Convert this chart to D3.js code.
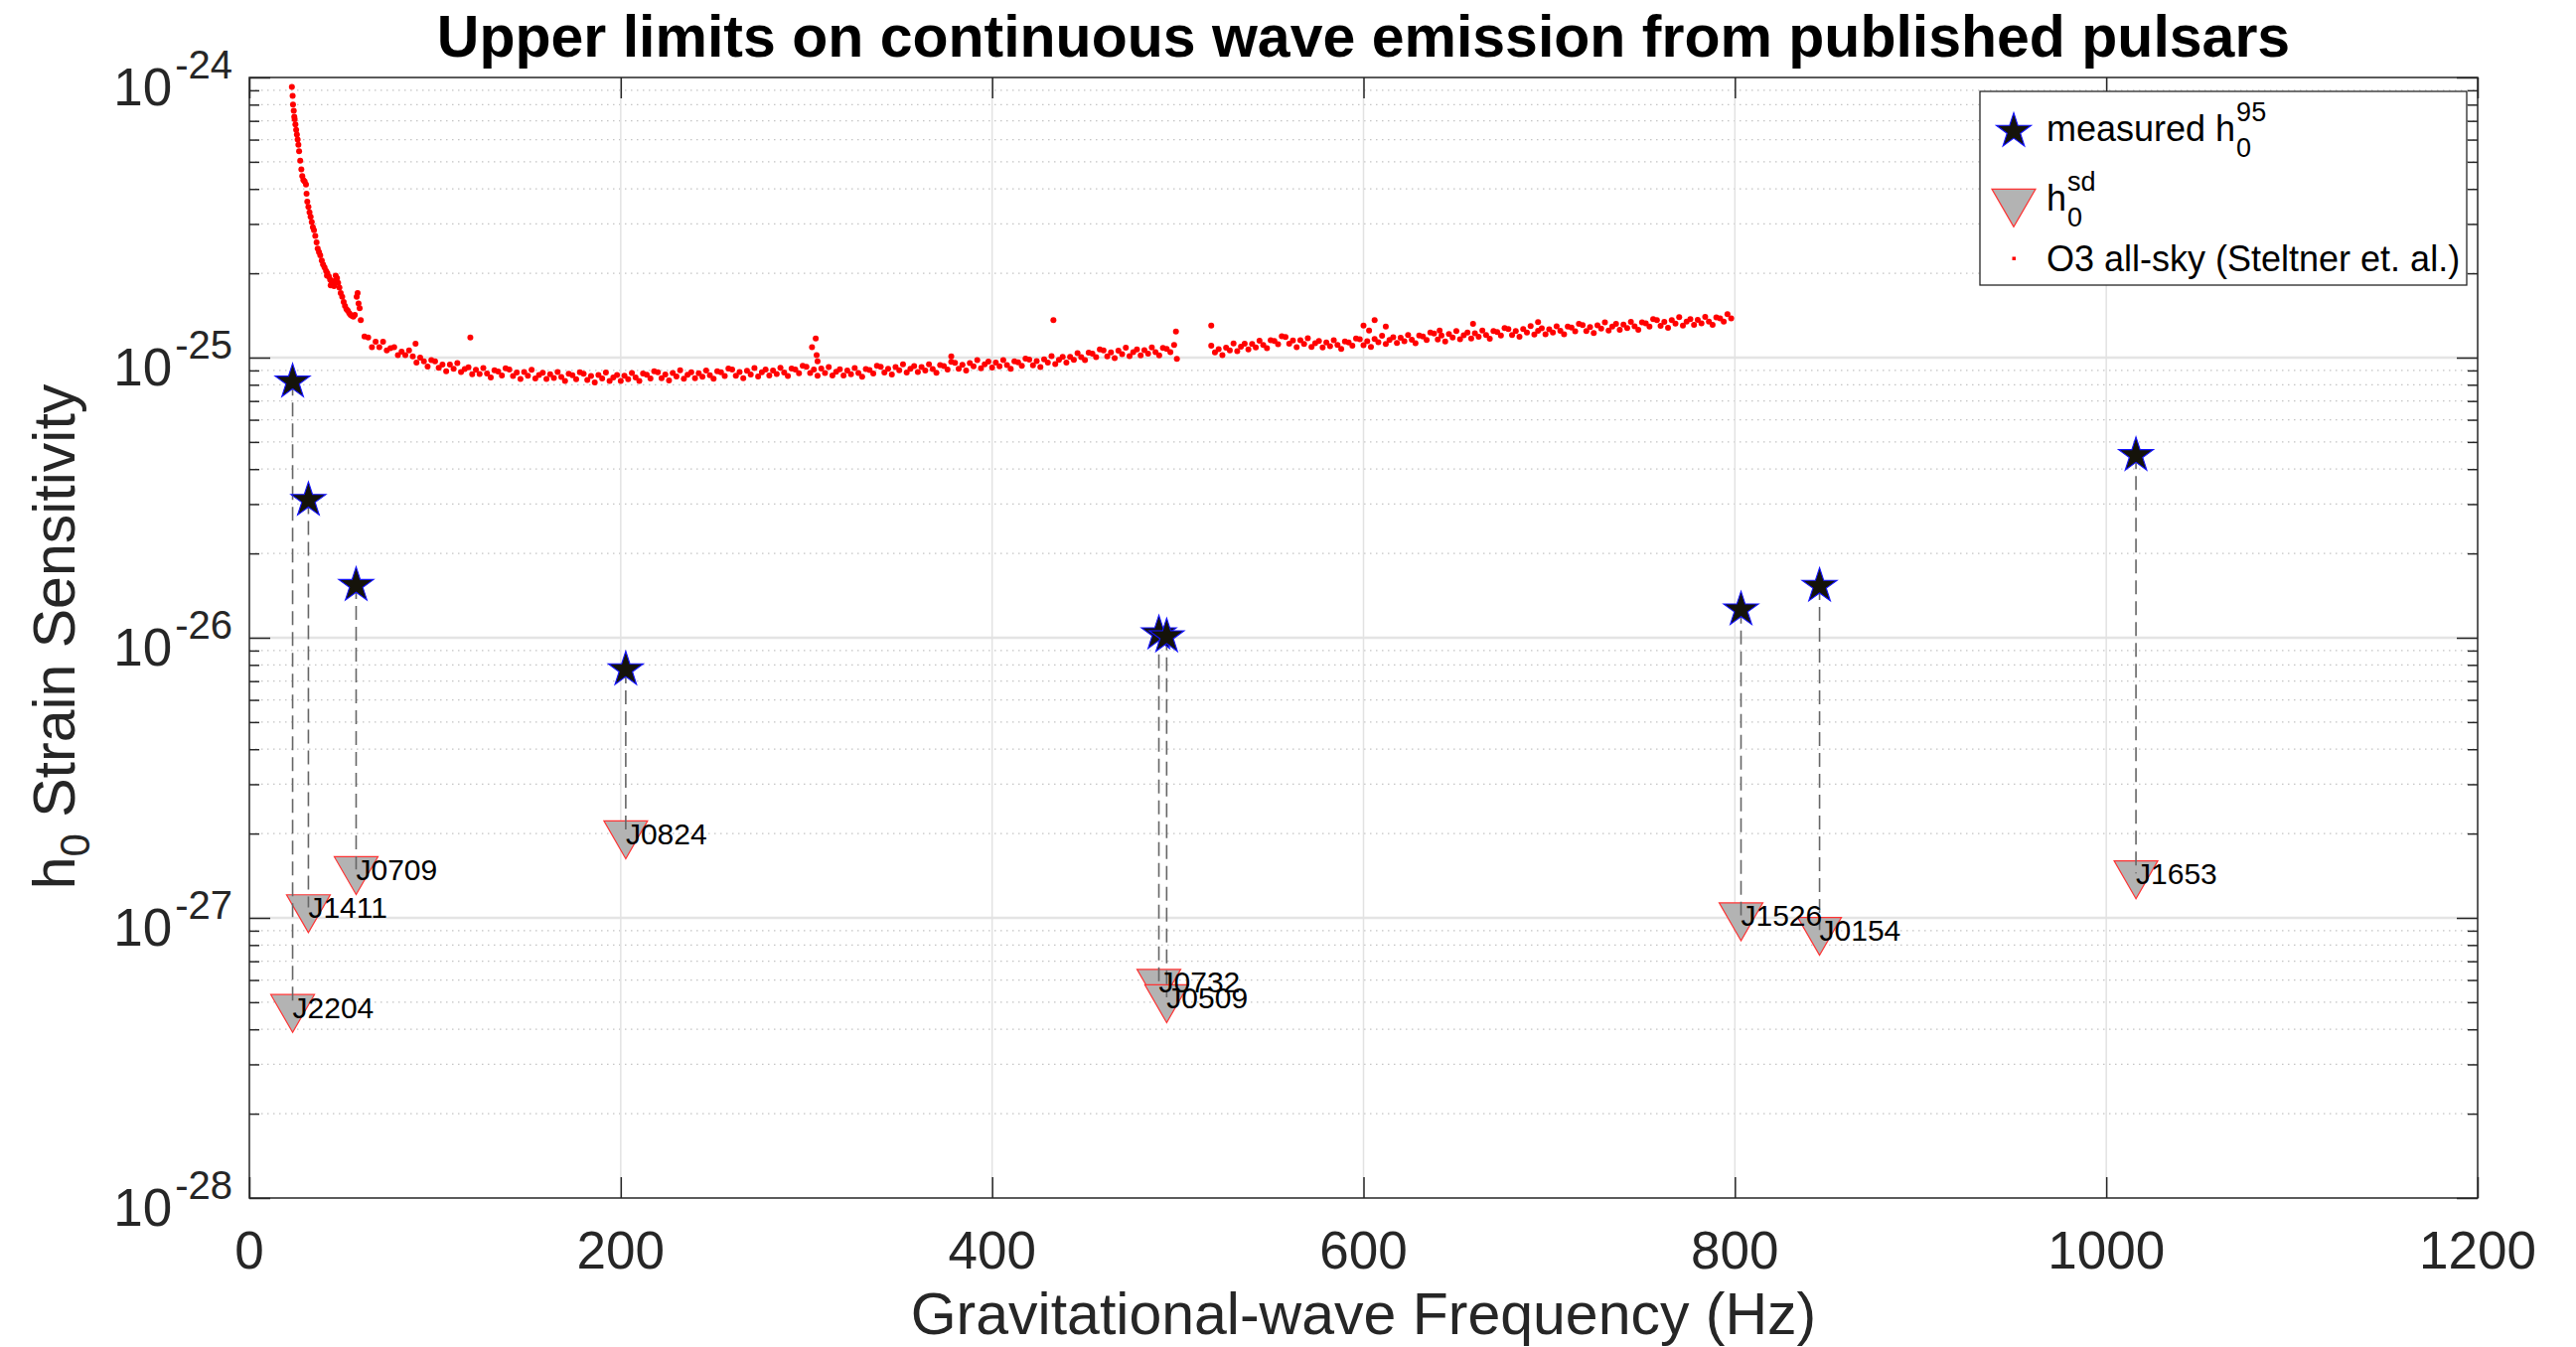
<!DOCTYPE html>
<html>
<head>
<meta charset="utf-8">
<script src="https://cdn.jsdelivr.net/npm/d3@7"></script>
<style>
  body { margin: 0; background: #fff; }
  svg { display: block; font-family: "Liberation Sans", Arial, Helvetica, sans-serif; }
</style>
</head>
<body>
<svg id="chart" width="2593" height="1356"></svg>
<script>
// axis ticks
const xTicks = [0, 200, 400, 600, 800, 1000, 1200];
const yDecades = [-28, -27, -26, -25, -24];

// published pulsars: name, GW frequency (Hz), measured h0 95% UL, spin-down limit
const pulsarNames = ["J2204", "J1411", "J0709", "J0824", "J0732", "J0509", "J1526", "J0154", "J1653"];
const pulsarFreq = [23.3, 31.8, 57.5, 202.7, 489.8, 494.0, 803.3, 845.6, 1016];
const h95 = [8.2e-26, 3.1e-26, 1.54e-26, 7.7e-27, 1.035e-26, 1.01e-26, 1.26e-26, 1.53e-26, 4.48e-26];
const hSd = [4.8e-28, 1.09e-27, 1.49e-27, 2.0e-27, 5.9e-28, 5.2e-28, 1.02e-27, 9.05e-28, 1.44e-27];

// O3 all-sky upper limits, [frequency Hz, h0 in units of 1e-27]
const o3Low = [
  [22.9,925],[23.3,860],[23.5,800],[23.9,760],[24.2,725],[24.4,710],[24.8,680],[25.2,650],[25.6,625],[26,600],
  [26.4,575],[26.8,545],[27.4,505],[28,470],[28.5,445],[29.1,430],[29.8,425],[30.5,415],[30.8,385],[31.2,360],
  [31.8,345],[32.4,330],[33,318],[33.6,305],[34.2,292],[34.8,285],[35.5,272],[36.2,258],[36.8,245],[37.5,238],
  [38.2,232],[39,222],[39.7,215],[40.5,210],[41.3,204],[41.8,196],[42,200],[42.8,195],[43.5,190],[43.8,181],
  [44.3,186],[45,184],[45.6,180],[46,188],[46.5,196],[47.2,192],[47.8,185],[48.5,178],[49.2,170],[50,165],
  [50.8,158],[51.5,153],[52.3,149],[53,147],[53.8,144],[54.5,142],[55.3,141],[56,140],[56.8,142],[57.8,165],
  [58.3,170],[58.8,156],[59.4,150]
];
const o3BandA = [
  [60,136],[62,119],[64,118],[66,109],[68,114],[70,109],[72,114],[74,106],[76,108],[78,109],
  [80,102],[82,105],[84,102],[86,106],[88,101],[90,96],[92,100],[94,97],[96,93],[98,98],
  [100,97],[102,92],[104,94.4],[106,89.3],[108,94.4],[110,91.3],[112,95.7],[114,88.8],[116,91],[118,92.3],
  [120,87.3],[122,90.5],[124,87.4],[126,91.7],[128,87.8],[130,85],[132,90.2],[134,89.2],[136,86.4],[138,91.6],
  [140,90.6],[142,86],[144,88.5],[146,83.9],[148,88.9],[150,86.1],[152,90.4],[154,84.2],[156,86.7],[158,88.3],
  [160,83.9],[162,87.3],[164,84.6],[166,88.8],[168,85.2],[170,82.6],[172,87.5],[174,86.5],[176,83.7],[178,88.6],
  [180,87.6],[182,83.3],[184,85.9],[186,81.6],[188,86.7],[190,84.2],[192,88.4],[194,82.5],[196,85],[198,86.7],
  [200,82.5],[202,86.1],[204,83.7],[206,88.2],[208,84.9],[210,82.6],[212,87.7],[214,86.9],[216,84.3],[218,89.4],
  [220,88.6],[222,84.4],[224,87.1],[226,82.8],[228,88.1],[230,85.6],[232,90.1],[234,84.1],[236,86.8],[238,88.6],
  [240,84.4],[242,88],[244,85.5],[246,89.9],[248,86.5],[250,84],[252,89.4],[254,88.6],[256,86],[258,91.4],
  [260,90.6],[262,86.2],[264,88.9],[266,84.5],[268,89.8],[270,87.1],[272,91.7],[274,85.7],[276,88.6],[278,90.6],
  [280,86.3],[282,90],[284,87.4],[286,92],[288,88.5],[290,85.9],[292,91.4],[294,90.6],[296,88],[298,93.5],
  [300,92.7],[302,88.1],[304,90.7],[306,86.1],[308,91.4],[310,88.1],[312,92.6],[314,86.3],[316,89],[318,90.8],
  [320,86.3],[322,89.9],[324,87.2],[326,91.7],[328,88.1],[330,85.4],[332,91],[334,90.3],[336,87.8],[338,93.4],
  [340,92.7],[342,88.4],[344,91.3],[346,87],[348,92.6],[350,90.1],[352,94.7],[354,88.5],[356,91.3],[358,93.2],
  [360,88.8],[362,92.5],[364,89.9],[366,94.6],[368,91],[370,88.3],[372,94],[374,93.3],[376,90.7],[378,96.5],
  [380,95.8],[382,91.3],[384,94.3],[386,89.9],[388,95.7],[390,93.1],[392,98],[394,91.6],[396,94.6],[398,96.7],
  [400,92.2],[402,96],[404,93.1],[406,97.9],[408,94.1],[410,91.2],[412,97],[414,96.2],[416,93.4],[418,99.2],
  [420,98.4],[422,93.9],[424,97.1],[426,92.5],[428,98.6],[430,96],[432,101.3],[434,94.9],[436,98.2],[438,100.6],
  [440,96],[442,100.6],[444,98.2],[446,103.8],[448,100.4],[450,97.9],[452,104.2],[454,103.4],[456,100.5],[458,106.9],
  [460,106.1],[462,101.1],[464,104.4],[466,99.5],[468,105.9],[470,103],[472,108.4],[474,101.3],[476,104.6],[478,106.9],
  [480,101.9],[482,106.3],[484,103.3],[486,108.8],[488,104.7],[490,101.8],[492,108.3],[494,107.5],[496,104.5],[498,111]
];
const o3BandB = [
  [518,110.2],[520,104.4],[522,107.1],[524,102],[526,108.6],[528,106.1],[530,112.3],[532,105.4],[534,109.3],[536,112.2],
  [538,107],[540,111.8],[542,108.8],[544,114.8],[546,110.9],[548,108],[550,115.3],[552,114.6],[554,111.7],[556,119.1],
  [558,118.5],[560,112.2],[562,115.1],[564,109],[566,115.3],[568,111.8],[570,117.2],[572,109.2],[574,112.5],[576,114.6],
  [578,108.8],[580,113.2],[582,109.8],[584,115.4],[586,110.9],[588,107.5],[590,114.2],[592,113.3],[594,110.2],[596,117.1],
  [598,116.2],[600,110.7],[602,114.5],[604,109.2],[606,116.5],[608,113.5],[610,119.6],[612,111.8],[614,115.6],[616,118.2],
  [618,112.7],[620,117.7],[622,114.4],[624,120.4],[626,115.9],[628,112.6],[630,119.9],[632,118.9],[634,115.5],[636,122.8],
  [638,121.8],[640,116.1],[642,119.9],[644,114.1],[646,121.5],[648,118.1],[650,124.3],[652,116.2],[654,120.1],[656,122.8],
  [658,117.1],[660,122.2],[662,118.8],[664,125],[666,120.4],[668,116.9],[670,124.4],[672,123.4],[674,120],[676,127.5],
  [678,126.5],[680,120.5],[682,124.5],[684,118.7],[686,126.4],[688,123],[690,129.5],[692,120.9],[694,124.7],[696,127.3],
  [698,121.2],[700,126.3],[702,122.8],[704,129.4],[706,124.6],[708,121.2],[710,129],[712,127.9],[714,124.2],[716,131.9],
  [718,130.7],[720,124.5],[722,128.6],[724,122.5],[726,130.5],[728,126.9],[730,133.6],[732,124.9],[734,129.1],[736,132],
  [738,125.8],[740,131.3],[742,127.6],[744,134.3],[746,129.3],[748,125.6],[750,133.6],[752,132.6],[754,129],[756,137.2],
  [758,136.2],[760,129.9],[762,134.1],[764,127.8],[766,136.1],[768,132.4],[770,139.4],[772,130.2],[774,134.4],[776,137.3],
  [778,130.8],[780,136.4],[782,132.6],[784,139.7],[786,134.5],[788,130.8],[790,139.2],[792,138.2],[794,134.4],[796,142.9],
  [798,138]
];
const o3Outliers = [
  [89.5,112],[119,118],[303,109],[305,117],[305.5,102],[306,97],[378,101],[433,136],[499,124],[499.5,99],
  [518,130],[600,130],[603,125],[606,136],[612,129],[641,125],[659,132],[694,134]
];

const svg = d3.select("#chart");
const plotLeft = 251, plotRight = 2494, plotTop = 78, plotBottom = 1206;
const axisColor = "#262626";

const x = d3.scaleLinear().domain([0, 1200]).range([plotLeft, plotRight]);
const y = d3.scaleLog().domain([1e-28, 1e-24]).range([plotBottom, plotTop]);

// minor log positions 2..9 x 10^d
const minorVals = [];
yDecades.slice(0, -1).forEach(d => {
  for (let k = 2; k <= 9; k++) minorVals.push(k * Math.pow(10, d));
});
const majorVals = yDecades.map(d => Math.pow(10, d));

// grid
const grid = svg.append("g");
grid.selectAll(".minor")
  .data(minorVals)
  .join("line")
  .attr("x1", plotLeft).attr("x2", plotRight)
  .attr("y1", d => y(d)).attr("y2", d => y(d))
  .attr("stroke", "#c4c4c4")
  .attr("stroke-width", 1.3)
  .attr("stroke-dasharray", "1.5,4.5");
grid.selectAll(".majorY")
  .data(majorVals.slice(1, -1))
  .join("line")
  .attr("x1", plotLeft).attr("x2", plotRight)
  .attr("y1", d => y(d)).attr("y2", d => y(d))
  .attr("stroke", "#e4e4e4")
  .attr("stroke-width", 2.5);
grid.selectAll(".majorX")
  .data(xTicks.slice(1, -1))
  .join("line")
  .attr("x1", d => x(d)).attr("x2", d => x(d))
  .attr("y1", plotTop).attr("y2", plotBottom)
  .attr("stroke", "#e2e2e2")
  .attr("stroke-width", 1.5);

// O3 all-sky dots
svg.append("clipPath").attr("id", "plotClip")
  .append("rect").attr("x", plotLeft).attr("y", plotTop)
  .attr("width", plotRight - plotLeft).attr("height", plotBottom - plotTop);

const o3All = o3Low.concat(o3BandA, o3BandB, o3Outliers);
svg.append("g")
  .attr("clip-path", "url(#plotClip)")
  .selectAll("circle")
  .data(o3All)
  .join("circle")
  .attr("cx", d => x(d[0]))
  .attr("cy", d => y(d[1] * 1e-27))
  .attr("r", 3)
  .attr("fill", "#ff0000");

const pulsars = pulsarNames.map((n, i) => ({ name: n, f: pulsarFreq[i], h95: h95[i], hsd: hSd[i] }));

const triangle = d3.symbol(d3.symbolTriangle, 838);
const star = d3.symbol(d3.symbolStar, 384);

// spin-down markers
svg.append("g").selectAll("path")
  .data(pulsars)
  .join("path")
  .attr("d", triangle)
  .attr("transform", d => `translate(${x(d.f)},${y(d.hsd)}) rotate(180)`)
  .attr("fill", "#b3b3b3")
  .attr("stroke", "#ff3333")
  .attr("stroke-width", 1.2);

// connecting dashed lines
svg.append("g").selectAll("line")
  .data(pulsars)
  .join("line")
  .attr("x1", d => x(d.f)).attr("x2", d => x(d.f))
  .attr("y1", d => y(d.h95)).attr("y2", d => y(d.hsd))
  .attr("stroke", "#666")
  .attr("stroke-width", 1.6)
  .attr("stroke-dasharray", "14,7");

// measured upper limits
svg.append("g").selectAll("path")
  .data(pulsars)
  .join("path")
  .attr("d", star)
  .attr("transform", d => `translate(${x(d.f)},${y(d.h95)})`)
  .attr("fill", "#15130a")
  .attr("stroke", "#1414ff")
  .attr("stroke-width", 1.1);

// pulsar names
svg.append("g").selectAll("text")
  .data(pulsars)
  .join("text")
  .attr("x", d => x(d.f))
  .attr("y", d => y(d.hsd))
  .attr("dy", "0.36em")
  .attr("font-size", 30)
  .attr("fill", "#000")
  .text(d => d.name);

// axes (ticks inside, MATLAB style)
function styleAxis(g) {
  g.select(".domain").remove();
  g.selectAll(".tick line").attr("stroke", axisColor).attr("stroke-width", 1.5);
}
svg.append("g").attr("transform", `translate(0,${plotBottom})`)
  .call(d3.axisBottom(x).tickValues(xTicks).tickSizeInner(-21).tickSizeOuter(0).tickFormat(""))
  .call(styleAxis);
svg.append("g").attr("transform", `translate(0,${plotTop})`)
  .call(d3.axisTop(x).tickValues(xTicks).tickSizeInner(-21).tickSizeOuter(0).tickFormat(""))
  .call(styleAxis);
svg.append("g").attr("transform", `translate(${plotLeft},0)`)
  .call(d3.axisLeft(y).tickValues(majorVals).tickSizeInner(-21).tickSizeOuter(0).tickFormat(""))
  .call(styleAxis);
svg.append("g").attr("transform", `translate(${plotLeft},0)`)
  .call(d3.axisLeft(y).tickValues(minorVals).tickSizeInner(-10).tickSizeOuter(0).tickFormat(""))
  .call(styleAxis);
svg.append("g").attr("transform", `translate(${plotRight},0)`)
  .call(d3.axisRight(y).tickValues(majorVals).tickSizeInner(-21).tickSizeOuter(0).tickFormat(""))
  .call(styleAxis);
svg.append("g").attr("transform", `translate(${plotRight},0)`)
  .call(d3.axisRight(y).tickValues(minorVals).tickSizeInner(-10).tickSizeOuter(0).tickFormat(""))
  .call(styleAxis);

svg.append("rect")
  .attr("x", plotLeft).attr("y", plotTop)
  .attr("width", plotRight - plotLeft).attr("height", plotBottom - plotTop)
  .attr("fill", "none")
  .attr("stroke", axisColor)
  .attr("stroke-width", 1.5);

// tick labels
svg.append("g").selectAll("text")
  .data(xTicks)
  .join("text")
  .attr("x", d => x(d))
  .attr("y", plotBottom + 71)
  .attr("text-anchor", "middle")
  .attr("font-size", 53)
  .attr("fill", axisColor)
  .text(d => d);

const yLab = svg.append("g").selectAll("text")
  .data(yDecades)
  .join("text")
  .attr("x", plotLeft - 17)
  .attr("y", d => y(Math.pow(10, d)) + 28)
  .attr("text-anchor", "end")
  .attr("fill", axisColor)
  .attr("font-size", 53);
yLab.append("tspan").text("10");
yLab.append("tspan").attr("dy", -27).attr("dx", 3).attr("font-size", 40).text(d => String(d));

// title and axis labels
svg.append("text")
  .attr("x", (plotLeft + plotRight) / 2)
  .attr("y", 57)
  .attr("text-anchor", "middle")
  .attr("font-size", 59)
  .attr("font-weight", "bold")
  .attr("fill", "#000")
  .text("Upper limits on continuous wave emission from published pulsars");

svg.append("text")
  .attr("x", (plotLeft + plotRight) / 2)
  .attr("y", 1343)
  .attr("text-anchor", "middle")
  .attr("font-size", 59)
  .attr("fill", axisColor)
  .text("Gravitational-wave Frequency (Hz)");

const yTitle = svg.append("text")
  .attr("transform", "translate(75,641) rotate(-90)")
  .attr("text-anchor", "middle")
  .attr("font-size", 59)
  .attr("fill", axisColor);
yTitle.append("tspan").text("h");
yTitle.append("tspan").attr("font-size", 42).attr("dy", 15).text("0");
yTitle.append("tspan").attr("dy", -15).text(" Strain Sensitivity");

// legend
const lg = svg.append("g");
lg.append("rect")
  .attr("x", 1993).attr("y", 92)
  .attr("width", 490).attr("height", 195)
  .attr("fill", "#fff")
  .attr("stroke", axisColor)
  .attr("stroke-width", 1.3);

lg.append("path").attr("d", star)
  .attr("transform", "translate(2027,132)")
  .attr("fill", "#15130a").attr("stroke", "#1414ff").attr("stroke-width", 1.1);
lg.append("path").attr("d", triangle)
  .attr("transform", "translate(2027,203) rotate(180)")
  .attr("fill", "#b3b3b3").attr("stroke", "#ff3333").attr("stroke-width", 1.2);
lg.append("rect").attr("x", 2025.5).attr("y", 258.5).attr("width", 3.5).attr("height", 3.5).attr("fill", "#ff0000");

function legendH(baseY, supText, labelPrefix) {
  const t = lg.append("text")
    .attr("x", 2060).attr("y", baseY)
    .attr("font-size", 36).attr("fill", "#000")
    .text(labelPrefix + "h");
  const w = t.node().getComputedTextLength();
  lg.append("text").attr("x", 2061 + w).attr("y", baseY - 20)
    .attr("font-size", 27).attr("fill", "#000").text(supText);
  lg.append("text").attr("x", 2061 + w).attr("y", baseY + 16)
    .attr("font-size", 27).attr("fill", "#000").text("0");
}
legendH(142, "95", "measured ");
legendH(212, "sd", "");
lg.append("text")
  .attr("x", 2060).attr("y", 273)
  .attr("font-size", 36).attr("fill", "#000")
  .text("O3 all-sky (Steltner et. al.)");
</script>
</body>
</html>
